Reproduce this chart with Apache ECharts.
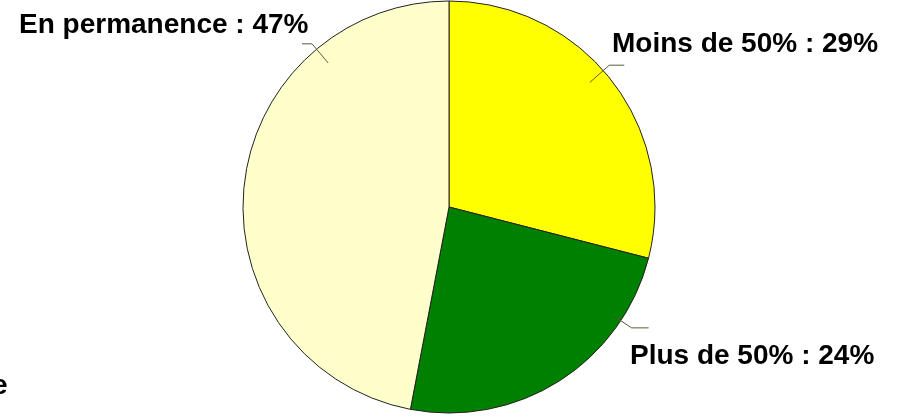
<!DOCTYPE html>
<html><head><meta charset="utf-8">
<script src="https://cdn.jsdelivr.net/npm/echarts@6/dist/echarts.min.js"></script>
<style>html,body{margin:0;padding:0;background:#fff}#c{width:899px;height:417px}</style>
</head><body><div id="c"></div>
<script>
const categories = ['Moins de 50%', 'Plus de 50%', 'En permanence'];
const values = [29, 24, 47];
const colors = ['#FFFF00', '#008000', '#FFFFCC'];

// styling: label placement and leader-line geometry (angle in degrees clockwise from top)
const CX = 449, CY = 207, R = 206;
const labelPos = [
  {x: 612, y: 44, angle: 48.5, rIn: 188, rOut: 214, dx: 15},
  {x: 630, y: 356, angle: 123.5, rIn: 198, rOut: 219, dx: 17},
  {x: 19, y: 25, angle: 320, rIn: 188, rOut: 213, dx: -10}
];
function polar(a, r) {
  const t = a * Math.PI / 180;
  return [CX + r * Math.sin(t), CY - r * Math.cos(t)];
}
const leaderLines = labelPos.map(lp => {
  const p0 = polar(lp.angle, lp.rIn);
  const p1 = polar(lp.angle, lp.rOut);
  return {
    type: 'polyline', z: 100, silent: true,
    shape: {points: [p0, p1, [p1[0] + lp.dx, p1[1]]]},
    style: {stroke: '#5a5a3a', lineWidth: 1, fill: null}
  };
});

const chart = echarts.init(document.getElementById('c'));
chart.setOption({
  backgroundColor: '#fff',
  animation: false,
  graphic: [{
    type: 'text', left: -8, top: 372,
    style: {text: 'e', font: 'bold 28px "Liberation Sans", Arial', fill: '#000'}
  }].concat(leaderLines),
  series: [{
    type: 'pie',
    center: [CX, CY],
    radius: R,
    startAngle: 90,
    clockwise: true,
    data: categories.map((c, i) => ({name: c, value: values[i], itemStyle: {color: colors[i]}})),
    itemStyle: {borderColor: '#222', borderWidth: 1},
    label: {
      show: true,
      formatter: p => p.name + ' : ' + p.value + '%',
      fontFamily: '"Liberation Sans", Arial, sans-serif',
      fontWeight: 'bold',
      fontSize: 28,
      color: '#000',
      overflow: 'none'
    },
    labelLine: {show: false},
    labelLayout: p => {
      const lp = labelPos[p.dataIndex];
      return {x: lp.x, y: lp.y, align: 'left', verticalAlign: 'middle', width: 400};
    }
  }]
});
</script></body></html>
